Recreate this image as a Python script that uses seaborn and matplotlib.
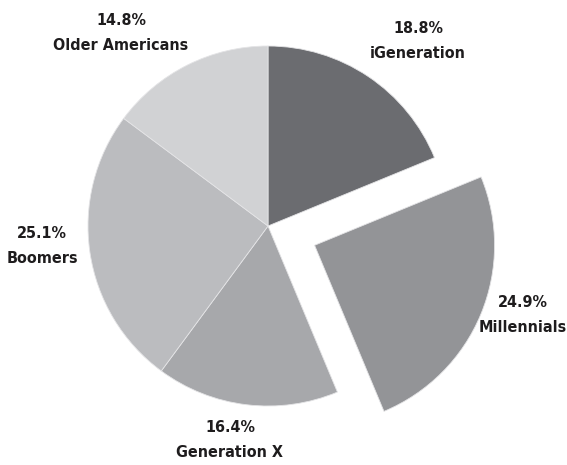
import matplotlib
matplotlib.use("Agg")
import matplotlib.pyplot as plt
import seaborn as sns

# Share of the population by generation
generations = ["iGeneration", "Millennials", "Generation X", "Boomers", "Older Americans"]
shares = [18.8, 24.9, 16.4, 25.1, 14.8]
slice_colors = ["#6b6c70", "#939497", "#a7a8ab", "#bbbcbf", "#d1d2d4"]
pulled_out = [0, 0.28, 0, 0, 0]

# Label anchor points (pixel space, y measured from the top)
label_xy = [(418, 41), (523, 315), (230, 440), (42, 246), (121, 33)]

sns.set_theme(style="white")
plt.rcParams["font.family"] = ["DejaVu Sans"]

W, H = 567, 465
R = 180
fig = plt.figure(figsize=(W / 100, H / 100), dpi=100)
ax = fig.add_axes([0, 0, 1, 1])

ax.pie(
    shares,
    colors=slice_colors,
    explode=[p * R for p in pulled_out],
    startangle=90,
    counterclock=False,
    center=(268, H - 226),
    radius=R,
    wedgeprops=dict(edgecolor="#e4e4e6", linewidth=0.6),
    frame=True,
)
ax.set_xlim(0, W)
ax.set_ylim(0, H)
ax.set_aspect("equal")
ax.axis("off")

for name, val, (x, y) in zip(generations, shares, label_xy):
    ax.text(x, H - y, f"{val:.1f}%\n{name}", ha="center", va="center",
            fontsize=11.5, fontweight="bold", fontstretch="condensed",
            color="#1e1c1d", linespacing=1.85)

fig.savefig("out.png", dpi=100)
